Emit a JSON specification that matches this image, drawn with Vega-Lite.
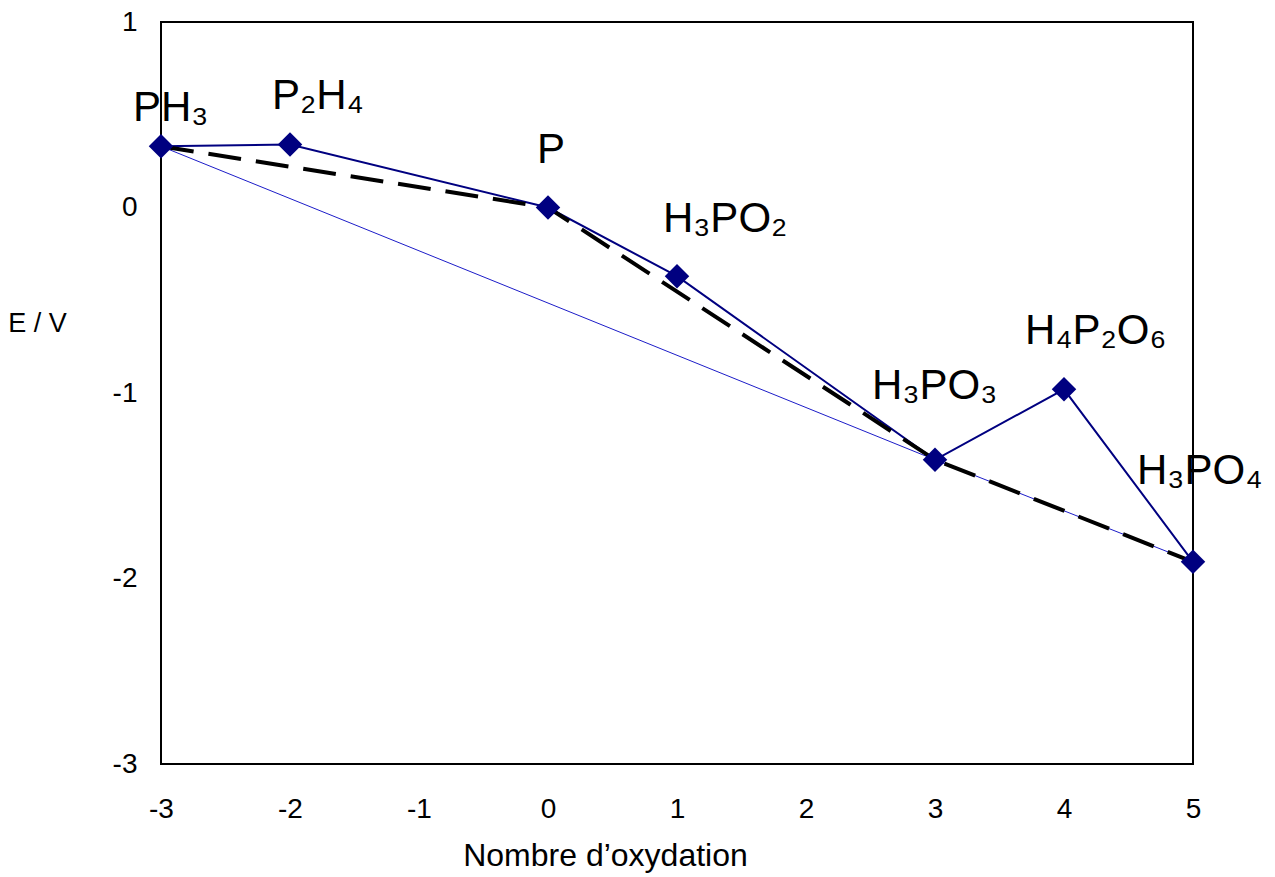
{
  "$schema": "https://vega.github.io/schema/vega-lite/v6.json",
  "autosize": {"type": "none"},
  "width": 1032,
  "height": 742,
  "padding": {"left": 161, "top": 22, "right": 82, "bottom": 113},
  "background": "white",
  "config": {
    "font": "Liberation Sans",
    "view": {"stroke": "black", "strokeWidth": 2}
  },
  "datasets": {
    "species": [
      {"name": "PH₃", "n": -3, "E": 0.33, "labelN": -3.217, "labelE": 0.464},
      {"name": "P₂H₄", "n": -2, "E": 0.34, "labelN": -2.14, "labelE": 0.529},
      {"name": "P", "n": 0, "E": 0.0, "labelN": -0.085, "labelE": 0.238},
      {"name": "H₃PO₂", "n": 1, "E": -0.37, "labelN": 0.891, "labelE": -0.134},
      {"name": "H₃PO₃", "n": 3, "E": -1.36, "labelN": 2.512, "labelE": -1.034},
      {"name": "H₄P₂O₆", "n": 4, "E": -0.98, "labelN": 3.698, "labelE": -0.738},
      {"name": "H₃PO₄", "n": 5, "E": -1.91, "labelN": 4.566, "labelE": -1.492}
    ],
    "hull": [
      {"n": -3, "E": 0.33},
      {"n": 0, "E": 0.0},
      {"n": 3, "E": -1.36},
      {"n": 5, "E": -1.91}
    ],
    "direct": [
      {"n": -3, "E": 0.33},
      {"n": 3, "E": -1.36},
      {"n": 5, "E": -1.91}
    ]
  },
  "encoding": {
    "x": {
      "field": "n", "type": "quantitative",
      "scale": {"domain": [-3, 5], "nice": false, "zero": false},
      "axis": {
        "values": [-3, -2, -1, 0, 1, 2, 3, 4, 5],
        "labelExpr": "'' + datum.value",
        "labelFlush": false,
        "title": "Nombre d’oxydation",
        "titleFontSize": 32, "titleFontWeight": "normal", "titleColor": "black",
        "titleX": 444, "titleY": 101, "titleAlign": "center", "titleBaseline": "alphabetic",
        "labelFontSize": 28, "labelColor": "black", "labelPadding": 31,
        "ticks": false, "domain": false, "grid": false
      }
    },
    "y": {
      "field": "E", "type": "quantitative",
      "scale": {"domain": [-3, 1], "nice": false, "zero": false},
      "axis": {
        "values": [-3, -2, -1, 0, 1],
        "labelExpr": "'' + datum.value",
        "labelFlush": false,
        "title": "E / V",
        "titleFontSize": 27, "titleFontWeight": "normal", "titleColor": "black",
        "titleAngle": 0, "titleX": -124, "titleY": 301, "titleAlign": "center", "titleBaseline": "middle",
        "labelFontSize": 28, "labelColor": "black", "labelPadding": 24,
        "ticks": false, "domain": false, "grid": false
      }
    }
  },
  "layer": [
    {
      "data": {"name": "direct"},
      "mark": {"type": "line", "color": "#1c1cc8", "strokeWidth": 1}
    },
    {
      "data": {"name": "species"},
      "mark": {"type": "line", "color": "#000080", "strokeWidth": 2}
    },
    {
      "data": {"name": "hull"},
      "mark": {"type": "line", "color": "black", "strokeWidth": 4, "strokeDash": [33, 15]}
    },
    {
      "data": {"name": "species"},
      "mark": {"type": "point", "shape": "diamond", "filled": true, "color": "#000080", "opacity": 1, "size": 600}
    },
    {
      "data": {"name": "species"},
      "mark": {"type": "text", "fontSize": 42, "color": "black", "align": "left", "baseline": "alphabetic", "font": "Liberation Sans, DejaVu Sans"},
      "encoding": {
        "x": {"field": "labelN", "type": "quantitative"},
        "y": {"field": "labelE", "type": "quantitative"},
        "text": {"field": "name"}
      }
    }
  ]
}
